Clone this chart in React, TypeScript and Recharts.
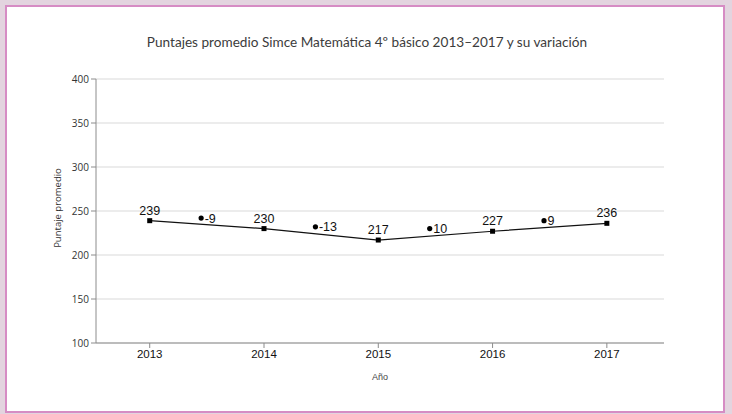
import React from 'react';
import { ComposedChart, Line, Scatter, XAxis, YAxis, CartesianGrid, LabelList } from 'recharts';

const years = [2013, 2014, 2015, 2016, 2017];
const scores = [239, 230, 217, 227, 236];
const variationX = [2013.45, 2014.45, 2015.45, 2016.45];
const variationY = [242, 232, 230, 239];
const variations = [-9, -13, 10, 9];
const yTicks = [100, 150, 200, 250, 300, 350, 400];

const lineData = years.map((x, i) => ({ x, y: scores[i] }));
const varData = variationX.map((x, i) => ({ x, y: variationY[i], v: variations[i] }));

const SquareDot = (p: any) => (
  <rect key={`sq-${p.index}`} x={p.cx - 2.5} y={p.cy - 2.5} width={5} height={5} fill="#000" />
);

const VarShape = (p: any) => (
  <g>
    <circle cx={p.cx} cy={p.cy} r={2.6} fill="#000" />
    <text x={p.cx + 3.5} y={p.cy} dy="0.36em" fontSize={12.5} fill="#111" fontFamily="'Liberation Sans', Arial, sans-serif">
      {p.payload.v}
    </text>
  </g>
);

export default function App() {
  return (
    <div style={{ position: 'fixed', left: 0, top: 0, width: 732, height: 414, background: '#e3d4df', overflow: 'hidden' }}>
      <div style={{ position: 'absolute', left: 5, top: 5, width: 716, height: 404, border: '2px solid #d68cc4', background: '#fff' }} />
      <div style={{ position: 'absolute', left: 0, top: 34, width: 734, textAlign: 'center', fontFamily: 'Lato, sans-serif', fontSize: 13.6, color: '#3c3c3c' }}>
        Puntajes promedio Simce Matemática 4º básico 2013–2017 y su variación
      </div>
      <div style={{ position: 'absolute', left: 0, top: 0 }}>
        <ComposedChart width={732} height={414} margin={{ top: 79, right: 68, bottom: 0, left: 0 }}>
          <CartesianGrid vertical={false} stroke="#d9d9d9" />
          <XAxis
            dataKey="x"
            type="number"
            domain={[2012.53, 2017.5]}
            ticks={years}
            allowDataOverflow
            height={71}
            tickSize={5}
            stroke="#8c8c8c"
            tick={{ fontSize: 11.5, fill: '#111', fontFamily: "'Liberation Sans', Arial, sans-serif" }}
            label={{
              content: (props: any) => {
                const vb = props.viewBox;
                return (
                  <text x={vb.x + vb.width / 2} y={vb.y + 37} textAnchor="middle" fontSize={9} fill="#444" fontFamily="'Liberation Sans', Arial, sans-serif">
                    Año
                  </text>
                );
              },
            }}
          />
          <YAxis
            type="number"
            domain={[100, 400]}
            ticks={yTicks}
            width={96}
            tickSize={5}
            stroke="#8c8c8c"
            tick={{ fontSize: 10, fill: '#333', fontFamily: "'Liberation Sans Narrow', 'Open Sans', sans-serif" }}
            label={{
              content: (props: any) => {
                const vb = props.viewBox;
                const cx = 58;
                const cy = vb.y + vb.height / 2 - 3;
                return (
                  <text x={cx} y={cy} transform={`rotate(-90 ${cx} ${cy})`} textAnchor="middle" dy="0.35em" fontSize={9.5} fill="#333" fontFamily="'Open Sans', sans-serif">
                    Puntaje promedio
                  </text>
                );
              },
            }}
          />
          <Line
            data={lineData}
            dataKey="y"
            stroke="#111"
            strokeWidth={1.2}
            dot={SquareDot}
            activeDot={false}
            isAnimationActive={false}
          >
            <LabelList dataKey="y" position="top" offset={6} fontSize={12.5} fill="#111" fontFamily="'Liberation Sans', Arial, sans-serif" />
          </Line>
          <Scatter data={varData} dataKey="y" shape={VarShape} isAnimationActive={false} />
        </ComposedChart>
      </div>
    </div>
  );
}
